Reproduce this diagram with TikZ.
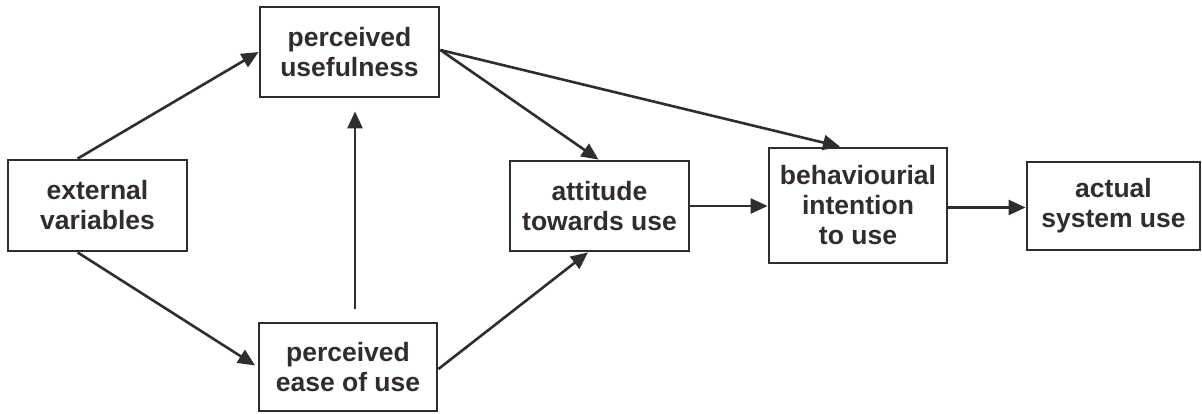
\documentclass[tikz,border=0pt]{standalone}
\usepackage{fontspec}
\setmainfont{Liberation Sans}
\usetikzlibrary{arrows.meta}
\definecolor{ink}{RGB}{50,45,45}
\tikzset{
  boxnode/.style={draw=ink, line width=2.8pt, text=ink, align=center,
    inner sep=0pt, font=\fontsize{26.5}{30}\selectfont\bfseries},
  conn/.style={draw=ink, line width=2.6pt,
    -{Triangle[length=17pt,width=15pt]}},
}
\begin{document}
\begin{tikzpicture}[x=1pt,y=-1pt]
\useasboundingbox[fill=white] (0,0) rectangle (1202,413);
\node[boxnode, minimum width=179pt, minimum height=91pt] (ext) at (97.5,205.5) {external\\variables};
\node[boxnode, minimum width=179pt, minimum height=90pt] (pu) at (349.5,52) {perceived\\usefulness};
\node[boxnode, minimum width=178pt, minimum height=88pt] (pe) at (348,367) {perceived\\ease of use};
\node[boxnode, minimum width=179pt, minimum height=90pt] (att) at (599.5,206) {attitude\\towards use};
\node[boxnode, minimum width=178pt, minimum height=115pt] (bi) at (858,205.5) {behaviourial\\intention\\to use};
\node[boxnode, minimum width=173pt, minimum height=88pt] (asu) at (1113.5,206) {actual\\system use};

\draw[conn] ([xshift=71pt]ext.north west) -- (pu.west);
\draw[conn, shorten >=3pt] ([xshift=71pt]ext.south west) -- (pe.west);
\draw[conn, shorten <=13pt, shorten >=13pt] ([xshift=7pt]pe.north) -- ([xshift=7pt]pe.north |- pu.south);
\draw[conn] ([yshift=2pt]pu.east) -- ([xshift=-1pt]att.north);
\draw[conn] ([yshift=2pt]pu.east) -- ([xshift=-18pt]bi.north);
\draw[conn] ([yshift=-2pt]pe.east) -- ([xshift=-11.5pt]att.south);
\draw[conn] (att.east) -- (att.east -| bi.west);
\draw[conn] ([yshift=-2pt]bi.east) -- ([yshift=-2pt]bi.east -| asu.west);
\end{tikzpicture}
\end{document}
